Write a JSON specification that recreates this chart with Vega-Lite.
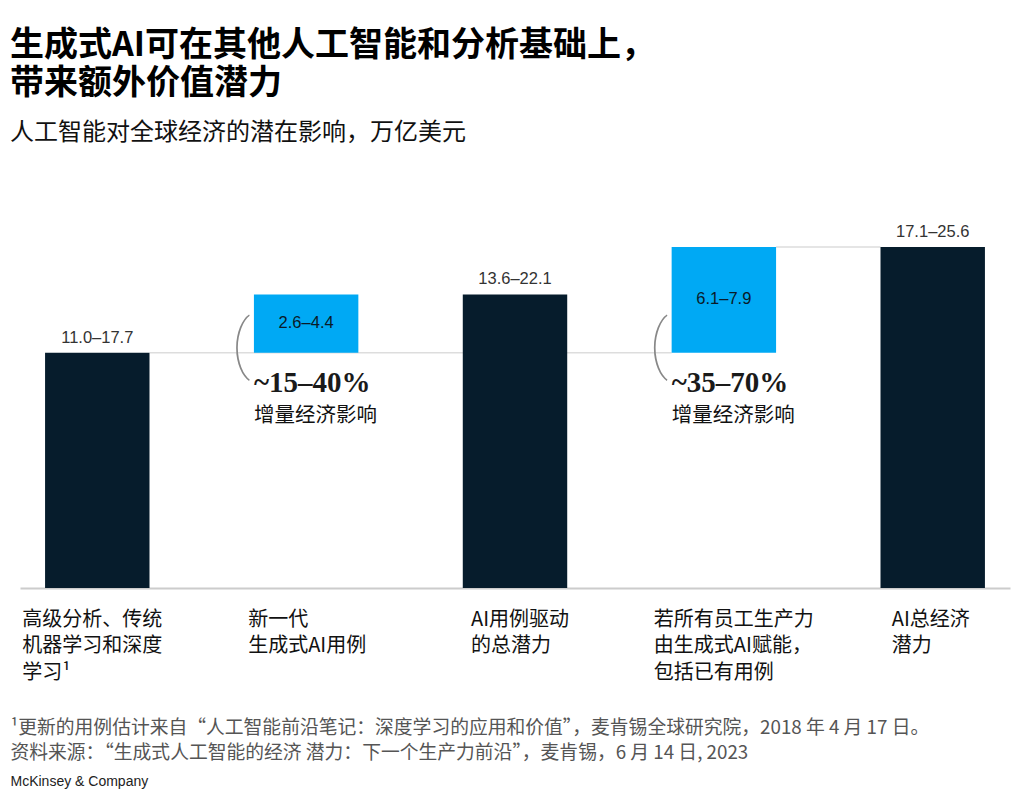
{
  "$schema": "https://vega.github.io/schema/vega-lite/v6.json",
  "width": 990,
  "height": 388,
  "autosize": {"type": "none"},
  "padding": {"left": 20, "top": 200, "right": 14, "bottom": 206},
  "background": "white",
  "title": {
    "text": ["生成式AI可在其他人工智能和分析基础上，", "带来额外价值潜力"],
    "subtitle": "人工智能对全球经济的潜在影响，万亿美元",
    "anchor": "start",
    "frame": "group",
    "dx": -10,
    "offset": 55,
    "font": "Noto Sans CJK SC",
    "fontSize": 34,
    "fontWeight": "bold",
    "color": "#000000",
    "lineHeight": 38,
    "subtitleFont": "Noto Sans CJK SC",
    "subtitleFontSize": 24,
    "subtitleColor": "#111111",
    "subtitlePadding": 20
  },
  "config": {"view": {"stroke": null}, "font": "Noto Sans CJK SC"},
  "datasets": {
    "bars": [
      {"cat": "c1", "y0": 0, "y1": 14.35, "type": "dark", "label": "11.0–17.7"},
      {"cat": "c2", "y0": 14.35, "y1": 17.9, "type": "blue", "label": "2.6–4.4"},
      {"cat": "c3", "y0": 0, "y1": 17.9, "type": "dark", "label": "13.6–22.1"},
      {"cat": "c4", "y0": 14.35, "y1": 20.8, "type": "blue", "label": "6.1–7.9"},
      {"cat": "c5", "y0": 0, "y1": 20.8, "type": "dark", "label": "17.1–25.6"}
    ],
    "links": [
      {"from": "c1", "to": "c4", "y": 14.35},
      {"from": "c4", "to": "c5", "y": 20.8}
    ],
    "notes": [
      {"cat": "c2", "y": 14.35, "pct": "~15–40%", "sub": "增量经济影响", "paren": "("},
      {"cat": "c4", "y": 14.35, "pct": "~35–70%", "sub": "增量经济影响", "paren": "("}
    ]
  },
  "encoding": {
    "x": {
      "field": "cat",
      "type": "nominal",
      "sort": null,
      "scale": {"domain": ["c1", "c2", "c3", "c4", "c5"], "paddingInner": 0.5, "paddingOuter": 0.12},
      "axis": {
        "labelExpr": "datum.value == 'c1' ? ['高级分析、传统', '机器学习和深度', '学习¹'] : datum.value == 'c2' ? ['新一代', '生成式AI用例'] : datum.value == 'c3' ? ['AI用例驱动', '的总潜力'] : datum.value == 'c4' ? ['若所有员工生产力', '由生成式AI赋能，', '包括已有用例'] : ['AI总经济', '潜力']",
        "labelAngle": 0,
        "labelAlign": "left",
        "labelBaseline": "top",
        "labelOffset": {
          "condition": [
            {"test": "datum.value == 'c1'", "value": -75},
            {"test": "datum.value == 'c2'", "value": -58},
            {"test": "datum.value == 'c3'", "value": -44},
            {"test": "datum.value == 'c4'", "value": -70}
          ],
          "value": -41
        },
        "labelPadding": 21,
        "labelFont": "Noto Sans CJK SC",
        "labelFontSize": 20,
        "labelLineHeight": 26.5,
        "labelColor": "#111111",
        "labelLimit": 300,
        "ticks": false,
        "domain": true,
        "domainColor": "#cccccc",
        "domainWidth": 2,
        "grid": false,
        "title": ["¹更新的用例估计来自“人工智能前沿笔记：深度学习的应用和价值”，麦肯锡全球研究院，2018 年 4 月 17 日。", "资料来源：“生成式人工智能的经济 潜力：下一个生产力前沿”，麦肯锡，6 月 14 日, 2023"],
        "titleFont": "Noto Sans CJK SC",
        "titleFontSize": 18.8,
        "titleFontWeight": "normal",
        "titleColor": "#555555",
        "titleLineHeight": 25,
        "titleAlign": "left",
        "titleBaseline": "top",
        "titleAnchor": "start",
        "titleX": -10,
        "titleY": 130
      }
    }
  },
  "layer": [
    {
      "data": {"name": "links"},
      "mark": {"type": "rule", "color": "#dddddd", "strokeWidth": 1.5},
      "encoding": {
        "x": {"field": "from", "type": "nominal", "bandPosition": 1},
        "x2": {"field": "to", "bandPosition": 0},
        "y": {"field": "y", "type": "quantitative"}
      }
    },
    {
      "data": {"name": "bars"},
      "mark": {"type": "bar"},
      "encoding": {
        "y": {
          "field": "y1",
          "type": "quantitative",
          "scale": {"domain": [0, 23.66], "nice": false, "zero": true},
          "axis": {
            "labels": false,
            "ticks": false,
            "domain": false,
            "grid": false,
            "title": "McKinsey & Company",
            "titleAngle": 0,
            "titleX": -10,
            "titleY": 581,
            "titleAlign": "left",
            "titleBaseline": "middle",
            "titleFont": "Liberation Sans",
            "titleFontSize": 14,
            "titleFontWeight": "normal",
            "titleColor": "#222222"
          }
        },
        "y2": {"field": "y0"},
        "color": {
          "field": "type",
          "type": "nominal",
          "scale": {"domain": ["dark", "blue"], "range": ["#061c2c", "#00a9f4"]},
          "legend": null
        }
      }
    },
    {
      "data": {"name": "bars"},
      "transform": [{"filter": "datum.type == 'dark'"}],
      "mark": {"type": "text", "dy": -15, "baseline": "middle", "font": "Liberation Sans", "fontSize": 16.5, "color": "#333333"},
      "encoding": {
        "y": {"field": "y1", "type": "quantitative"},
        "text": {"field": "label"}
      }
    },
    {
      "data": {"name": "bars"},
      "transform": [{"filter": "datum.cat == 'c2'"}],
      "mark": {"type": "text", "dy": 28.5, "baseline": "middle", "font": "Liberation Sans", "fontSize": 16.5, "color": "#0a1a28"},
      "encoding": {
        "y": {"field": "y1", "type": "quantitative"},
        "text": {"field": "label"}
      }
    },
    {
      "data": {"name": "bars"},
      "transform": [{"filter": "datum.cat == 'c4'"}],
      "mark": {"type": "text", "dy": 52.5, "baseline": "middle", "font": "Liberation Sans", "fontSize": 16.5, "color": "#0a1a28"},
      "encoding": {
        "y": {"field": "y1", "type": "quantitative"},
        "text": {"field": "label"}
      }
    },
    {
      "data": {"name": "notes"},
      "mark": {"type": "text", "align": "left", "baseline": "middle", "dy": 30, "font": "Liberation Serif", "fontWeight": "bold", "fontSize": 29, "color": "#1a1a1a"},
      "encoding": {
        "x": {"field": "cat", "type": "nominal", "bandPosition": 0},
        "y": {"field": "y", "type": "quantitative"},
        "text": {"field": "pct"}
      }
    },
    {
      "data": {"name": "notes"},
      "mark": {"type": "text", "align": "left", "baseline": "middle", "dy": 63, "font": "Noto Sans CJK SC", "fontSize": 20.5, "color": "#111111"},
      "encoding": {
        "x": {"field": "cat", "type": "nominal", "bandPosition": 0},
        "y": {"field": "y", "type": "quantitative"},
        "text": {"field": "sub"}
      }
    },
    {
      "data": {"name": "notes"},
      "mark": {"type": "text", "align": "center", "baseline": "alphabetic", "dx": -13, "dy": 13, "font": "Roboto", "fontWeight": 100, "fontSize": 64, "color": "#888888"},
      "encoding": {
        "x": {"field": "cat", "type": "nominal", "bandPosition": 0},
        "y": {"field": "y", "type": "quantitative"},
        "text": {"field": "paren"}
      }
    }
  ]
}
